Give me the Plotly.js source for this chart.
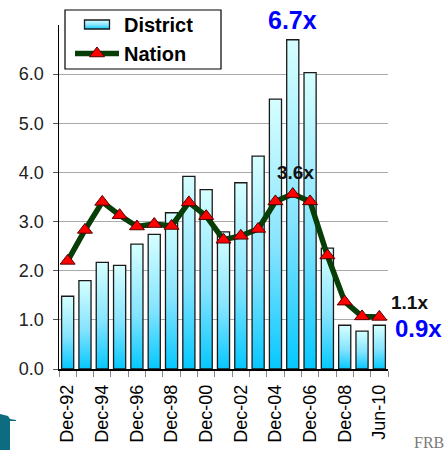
<!DOCTYPE html>
<html>
<head>
<meta charset="utf-8">
<script src="https://cdn.plot.ly/plotly-3.0.1.min.js"></script>
<style>
  html, body { margin: 0; padding: 0; background: #ffffff; }
  #chart { width: 444px; height: 450px; }
</style>
</head>
<body>
<div id="chart"></div>
<script>
// Period labels (year-end values, last point mid-year)
const categories = ['Dec-92','Dec-93','Dec-94','Dec-95','Dec-96','Dec-97','Dec-98','Dec-99',
  'Dec-00','Dec-01','Dec-02','Dec-03','Dec-04','Dec-05','Dec-06','Dec-07','Dec-08','Dec-09','Jun-10'];
// Only every other period is labelled on the axis
const tickLabels = ['Dec-92','','Dec-94','','Dec-96','','Dec-98','','Dec-00','','Dec-02','',
  'Dec-04','','Dec-06','','Dec-08','','Jun-10'];
// District ratio (bars)
const district = [1.48, 1.80, 2.17, 2.11, 2.54, 2.74, 3.18, 3.92, 3.65, 2.79,
  3.79, 4.33, 5.49, 6.70, 6.03, 2.46, 0.89, 0.77, 0.89];
// Nation ratio (line)
const nation = [2.20, 2.83, 3.40, 3.13, 2.90, 2.95, 2.91, 3.39, 3.11, 2.63,
  2.71, 2.85, 3.41, 3.56, 3.41, 2.31, 1.37, 1.07, 1.06];

// Plot frame in pixels
const W = 444, H = 450;
const M = { l: 59, r: 56, t: 25, b: 81, autoexpand: false };
const pw = W - M.l - M.r, ph = H - M.t - M.b;
const px = x => (x - M.l) / pw;
const py = y => (H - M.b - y) / ph;

const FONT = 'Liberation Sans, Arial, Helvetica, sans-serif';
const last = categories.length - 1;
const peak = district.indexOf(Math.max(...district));
const fmt = v => v.toFixed(1) + 'x';

const traces = [
  {
    type: 'bar', name: 'District', x: categories, y: district,
    marker: { color: '#80e4ff', line: { color: '#1a1a1a', width: 1.3 } }
  },
  {
    type: 'scatter', mode: 'lines+markers', name: 'Nation', x: categories, y: nation,
    line: { color: '#073d07', width: 5.5 },
    marker: { symbol: 'triangle-up', size: 13, color: '#ff0000', line: { color: '#550000', width: 1 } }
  }
];

const layout = {
  width: W, height: H, margin: M,
  paper_bgcolor: '#ffffff', plot_bgcolor: '#ffffff',
  font: { family: FONT, color: '#111111' },
  bargap: 0.3, showlegend: true,
  legend: {
    x: px(70), y: py(5), xanchor: 'left', yanchor: 'top',
    bgcolor: 'rgba(0,0,0,0)', borderwidth: 0, itemwidth: 44,
    font: { family: FONT, size: 20, color: '#000000', weight: 'bold' },
    tracegroupgap: 0
  },
  xaxis: {
    type: 'category', tickmode: 'array', tickvals: categories, ticktext: tickLabels,
    tickson: 'boundaries', ticks: 'outside', ticklen: 6, tickcolor: '#888888',
    tickangle: -90, ticklabelstandoff: 7, tickfont: { family: FONT, size: 18, color: '#000000' },
    showline: true, linecolor: '#000000', linewidth: 1.5, showgrid: false,
    range: [-0.5, last + 0.5], fixedrange: true, automargin: false
  },
  yaxis: {
    range: [0, 7], tickmode: 'array', tickvals: [0, 1, 2, 3, 4, 5, 6], tickformat: '.1f',
    ticks: 'outside', ticklen: 5, tickcolor: '#555555', ticklabelstandoff: 5,
    tickfont: { family: FONT, size: 18, color: '#222222' },
    showline: true, linecolor: '#000000', linewidth: 1.5,
    showgrid: true, gridcolor: '#aaaaaa', gridwidth: 1, zeroline: false, fixedrange: true, automargin: false
  },
  annotations: [
    { x: categories[peak], y: district[peak], xref: 'x', yref: 'y', text: '<b>' + fmt(district[peak]) + '</b>',
      showarrow: false, yanchor: 'middle', yshift: 20,
      font: { family: FONT, size: 25, color: '#0000ff' } },
    { x: categories[peak], y: nation[peak], xref: 'x', yref: 'y', text: '<b>' + fmt(nation[peak]) + '</b>',
      showarrow: false, yanchor: 'middle', yshift: 22, xshift: 3,
      font: { family: FONT, size: 19, color: '#111111' } },
    { x: categories[last], y: nation[last], xref: 'x', yref: 'y', text: '<b>' + fmt(nation[last]) + '</b>',
      showarrow: false, yanchor: 'middle', yshift: 14, xshift: 30,
      font: { family: FONT, size: 19, color: '#111111' } },
    { x: categories[last], y: district[last], xref: 'x', yref: 'y', text: '<b>' + fmt(district[last]) + '</b>',
      showarrow: false, yanchor: 'middle', yshift: -3, xshift: 39,
      font: { family: FONT, size: 24, color: '#0000ff' } },
    { x: px(412), y: py(442), xref: 'paper', yref: 'paper', text: 'FRB', showarrow: false,
      xanchor: 'left', yanchor: 'middle',
      font: { family: 'Liberation Serif, Times New Roman, serif', size: 16, color: '#7a7a7a' } }
  ],
  shapes: [
    // legend frame
    { type: 'rect', xref: 'paper', yref: 'paper', layer: 'above',
      x0: px(65), x1: px(221), y0: py(10), y1: py(69),
      fillcolor: '#ffffff', line: { color: '#000000', width: 1.2 } },
    // corner logo fragment
    { type: 'path', xref: 'paper', yref: 'paper', line: { width: 0 }, fillcolor: '#0d6c80', layer: 'above',
      path: 'M' + px(0) + ',' + py(414) + ' L' + px(8) + ',' + py(416) + ' L' + px(10) + ',' + py(419) +
            ' L' + px(16) + ',' + py(420) + ' L' + px(16) + ',' + py(421) + ' L' + px(10) + ',' + py(421) +
            ' L' + px(10) + ',' + py(450) + ' L' + px(0) + ',' + py(450) + ' Z' }
  ]
};

Plotly.newPlot('chart', traces, layout, { displayModeBar: false, staticPlot: true }).then(gd => {
  // vertical cyan gradient on each bar
  const svgNS = 'http://www.w3.org/2000/svg';
  const svg = gd.querySelector('.main-svg');
  let defs = svg.querySelector('defs');
  if (!defs) { defs = document.createElementNS(svgNS, 'defs'); svg.insertBefore(defs, svg.firstChild); }
  const grad = document.createElementNS(svgNS, 'linearGradient');
  grad.setAttribute('id', 'barFade');
  grad.setAttribute('x1', '0'); grad.setAttribute('y1', '0');
  grad.setAttribute('x2', '0'); grad.setAttribute('y2', '1');
  [['0%', '#d6ffff'], ['55%', '#86e4ff'], ['100%', '#05c8ff']].forEach(([o, c]) => {
    const s = document.createElementNS(svgNS, 'stop');
    s.setAttribute('offset', o); s.setAttribute('stop-color', c);
    grad.appendChild(s);
  });
  defs.appendChild(grad);
  gd.querySelectorAll('.barlayer .point path').forEach(p => { p.style.fill = 'url(#barFade)'; });
  const legendBar = gd.querySelector('.legend .traces .legendpoints path');
  if (legendBar) {
    legendBar.setAttribute('d', 'M12.5,4.5H-12.5V-4.5H12.5Z');
    legendBar.style.fill = 'url(#barFade)';
  }
});
</script>
</body>
</html>
